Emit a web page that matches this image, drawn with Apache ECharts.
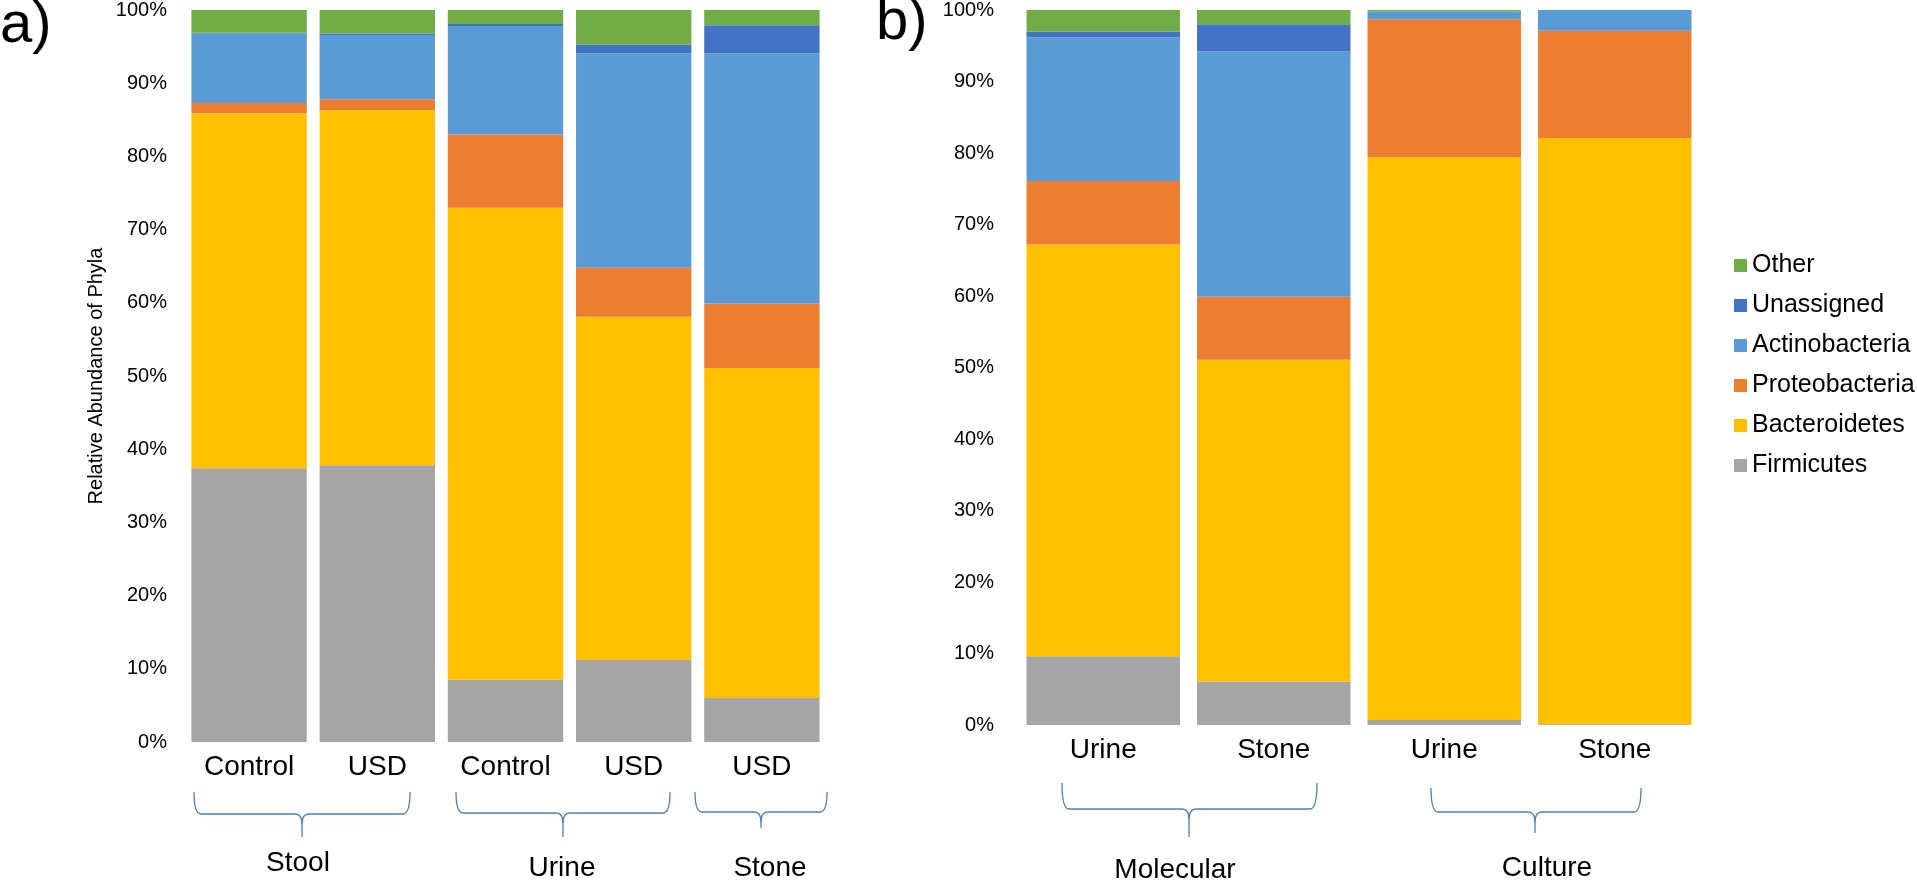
<!DOCTYPE html>
<html>
<head>
<meta charset="utf-8">
<script src="https://cdn.jsdelivr.net/npm/echarts@6/dist/echarts.min.js"></script>
<style>
  html, body { margin: 0; padding: 0; background: #fff; }
  #chart { width: 1917px; height: 885px; }
</style>
</head>
<body>
<div id="chart"></div>
<script>
// categories
const catsA = ['Control', 'USD', 'Control', 'USD', 'USD']
const catsB = ['Urine', 'Stone', 'Urine', 'Stone']
const yTicks = [0, 10, 20, 30, 40, 50, 60, 70, 80, 90, 100]

// panel a) Stool Control, Stool USD, Urine Control, Urine USD, Stone USD
const firmA = [37.4, 37.8, 8.5, 11.2, 6.0]
const bactA = [48.5, 48.5, 64.5, 46.9, 45.1]
const proteoA = [1.4, 1.5, 10.0, 6.7, 8.8]
const actinoA = [9.5, 8.8, 14.8, 29.3, 34.2]
const unassA = [0.1, 0.2, 0.3, 1.2, 3.8]
const otherA = [3.1, 3.2, 1.9, 4.7, 2.1]

// panel b) Molecular Urine, Molecular Stone, Culture Urine, Culture Stone
const firmB = [9.6, 6.1, 0.7, 0.1]
const bactB = [57.6, 45.0, 78.7, 82.0]
const proteoB = [8.9, 8.8, 19.3, 15.0]
const actinoB = [20.1, 34.3, 1.1, 2.9]
const unassB = [0.8, 3.8, 0, 0]
const otherB = [3.0, 2.0, 0.2, 0]

const phyla = ['Firmicutes', 'Bacteroidetes', 'Proteobacteria', 'Actinobacteria', 'Unassigned', 'Other']
const colors = ['#a5a5a5', '#ffc000', '#ed7d31', '#5b9bd5', '#4472c4', '#70ad47']
const dataA = [firmA, bactA, proteoA, actinoA, unassA, otherA]
const dataB = [firmB, bactB, proteoB, actinoB, unassB, otherB]

const font = 'Liberation Sans, Arial, sans-serif'

function makeSeries(data, idx, stack) {
    return phyla.map((name, i) => ({
        name: name,
        type: 'bar',
        stack: stack,
        xAxisIndex: idx,
        yAxisIndex: idx,
        barCategoryGap: '10%',
        itemStyle: { color: colors[i] },
        data: data[i]
    }))
}

function yAxis(grid, showName) {
    return {
        type: 'value',
        gridIndex: grid,
        min: yTicks[0],
        max: yTicks[yTicks.length - 1],
        interval: yTicks[1] - yTicks[0],
        name: showName ? 'Relative Abundance of Phyla' : '',
        nameLocation: 'middle',
        nameGap: 79,
        nameTextStyle: { fontSize: 20, color: '#000', fontFamily: font },
        axisLine: { show: false },
        axisTick: { show: false },
        splitLine: { show: false },
        axisLabel: {
            formatter: '{value}%',
            fontSize: 20,
            color: '#000',
            fontFamily: font,
            margin: grid === 0 ? 18 : 24
        }
    }
}

function xAxis(grid, cats) {
    return {
        type: 'category',
        gridIndex: grid,
        data: cats,
        axisLine: { show: false },
        axisTick: { show: false },
        axisLabel: { fontSize: 28, color: '#000', fontFamily: font, margin: 11 }
    }
}

// curly braces under the category groups
function brace(x1, x2, xc, top, mid, tip) {
    const st = { stroke: '#4a7ebb', lineWidth: 1.3, fill: null }
    const r = 7
    return [
        { type: 'bezierCurve', silent: true, style: st,
          shape: { x1: x1, y1: top, cpx1: x1, cpy1: mid, x2: x1 + r, y2: mid } },
        { type: 'line', silent: true, style: st,
          shape: { x1: x1 + r, y1: mid, x2: xc - r, y2: mid } },
        { type: 'bezierCurve', silent: true, style: st,
          shape: { x1: xc - r, y1: mid, cpx1: xc, cpy1: mid, x2: xc, y2: mid + 10 } },
        { type: 'bezierCurve', silent: true, style: st,
          shape: { x1: xc + r, y1: mid, cpx1: xc, cpy1: mid, x2: xc, y2: mid + 10 } },
        { type: 'line', silent: true, style: st,
          shape: { x1: xc, y1: mid + 10, x2: xc, y2: tip } },
        { type: 'line', silent: true, style: st,
          shape: { x1: xc + r, y1: mid, x2: x2 - r, y2: mid } },
        { type: 'bezierCurve', silent: true, style: st,
          shape: { x1: x2, y1: top, cpx1: x2, cpy1: mid, x2: x2 - r, y2: mid } }
    ]
}

function label(text, x, y, size) {
    return {
        type: 'text', silent: true, x: x, y: y,
        style: { text: text, fontSize: size, fontFamily: font, fill: '#000',
                 textAlign: 'center', textVerticalAlign: 'middle' }
    }
}

const graphics = [].concat(
    brace(194, 410, 302, 792, 814, 837),
    brace(456, 670, 563, 792, 813, 837),
    brace(695, 827, 761, 792, 812, 828),
    brace(1062, 1317, 1189, 783, 809, 837),
    brace(1431, 1641, 1535, 788, 812, 833),
    [
        label('Stool', 298, 863, 28),
        label('Urine', 562, 868, 28),
        label('Stone', 770, 868, 28),
        label('Molecular', 1175, 870, 28),
        label('Culture', 1547, 868, 28),
        { type: 'text', silent: true, x: 0, y: -3,
          style: { text: 'a)', fontSize: 58, fontFamily: font, fill: '#000' } },
        { type: 'text', silent: true, x: 876, y: -6,
          style: { text: 'b)', fontSize: 58, fontFamily: font, fill: '#000' } }
    ]
)

let option = {
    animation: false,
    textStyle: { fontFamily: font },
    grid: [
        { left: 185, top: 9.5, width: 641, height: 732.5 },
        { left: 1018, top: 2, width: 682, height: 723 }
    ],
    legend: {
        orient: 'vertical',
        left: 1729,
        top: 248,
        icon: 'rect',
        itemWidth: 13,
        itemHeight: 13,
        itemGap: 15,
        textStyle: { fontSize: 25, color: '#000', fontFamily: font },
        data: phyla.slice().reverse()
    },
    xAxis: [xAxis(0, catsA), xAxis(1, catsB)],
    yAxis: [yAxis(0, true), yAxis(1, false)],
    series: makeSeries(dataA, 0, 'a').concat(makeSeries(dataB, 1, 'b')),
    graphic: graphics
}

let chart = echarts.init(document.getElementById('chart'))
chart.setOption(option)
</script>
</body>
</html>
